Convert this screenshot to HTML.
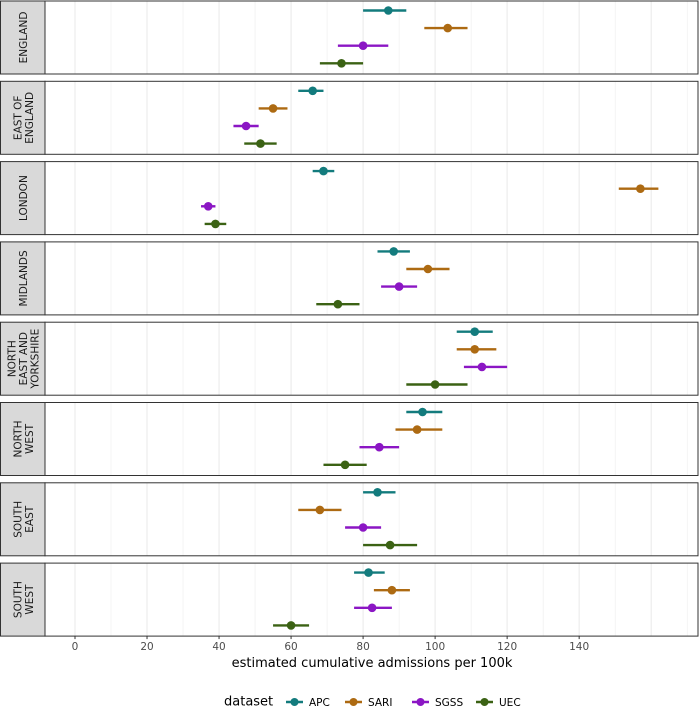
<!DOCTYPE html>
<html><head><meta charset="utf-8"><style>
html,body{margin:0;padding:0;background:#fff;}
svg{display:block;font-family:"DejaVu Sans","Liberation Sans",sans-serif;}
</style></head><body>
<svg id="chart" width="700" height="707" viewBox="0 0 700 707"></svg>
<script>
const regions=["ENGLAND","EAST OF|ENGLAND","LONDON","MIDLANDS","NORTH|EAST AND|YORKSHIRE","NORTH|WEST","SOUTH|EAST","SOUTH|WEST"];
const datasets=["APC","SARI","SGSS","UEC"];
const colors=["#137b7d","#ad6a12","#8b16c4","#3b6214"];
const est=[[87,103.5,80,74],[66,55,47.5,51.5],[69,157,37,39],[88.5,98,90,73],[111,111,113,100],[96.5,95,84.5,75],[84,68,80,87.5],[81.5,88,82.5,60]];
const lo=[[80,97,73,68],[62,51,44,47],[66,151,35,36],[84,92,85,67],[106,106,108,92],[92,89,79,69],[80,62,75,80],[77.5,83,77.5,55]];
const hi=[[92,109,87,80],[69,59,51,56],[72,162,39,42],[93,104,95,79],[116,117,120,109],[102,102,90,81],[89,74,85,95],[86,93,88,65]];
const ticks=[0,20,40,60,80,100,120,140];
const NS="http://www.w3.org/2000/svg";
const svg=document.getElementById("chart");
function el(t,a,p){const e=document.createElementNS(NS,t);for(const k in a)e.setAttribute(k,a[k]);(p||svg).appendChild(e);return e;}
const px0=45,px1=698,xmin=-8.33,xmax=173;
const x=v=>px0+(v-xmin)/(xmax-xmin)*(px1-px0);
const ph=73,pstep=80.3,ptop=1;
regions.forEach((r,i)=>{
 const t=ptop+i*pstep;
 const g=el("g",{});
 
 
 el("rect",{x:px0,y:t,width:px1-px0,height:ph,fill:"#fff"},g);
 for(let v=-10;v<=170;v+=10){if(v<xmin)continue;
  el("line",{x1:x(v),x2:x(v),y1:t,y2:t+ph,stroke:"#ebebeb","stroke-width":v%20===0?1.1:0.55},g);}
 datasets.forEach((d,j)=>{
  const y=t+9.5+j*17.6;
  const m=el("g",{},g);
  
  
  el("line",{x1:x(lo[i][j]),x2:x(hi[i][j]),y1:y,y2:y,stroke:colors[j],"stroke-width":2.4},m);
  el("circle",{cx:x(est[i][j]),cy:y,r:4.3,fill:colors[j]},m);
 });
 el("rect",{x:px0,y:t,width:px1-px0,height:ph,fill:"none",stroke:"#333","stroke-width":1},g);
 const s=el("rect",{x:0.5,y:t,width:px0-0.5,height:ph,fill:"#d9d9d9",stroke:"#333","stroke-width":1},g);
 
 
 const lines=r.split("|");const cx=23,cy=t+ph/2;
 const tx=el("text",{transform:`translate(${cx},${cy}) rotate(-90)`,"text-anchor":"middle","font-size":10.5,fill:"#1a1a1a"},g);
 lines.forEach((ln,k)=>{const ts=el("tspan",{x:0,y:(k-(lines.length-1)/2)*11.5+4},tx);ts.textContent=ln;});
});
const axY=ptop+7*pstep+ph;
ticks.forEach(v=>{
 el("line",{x1:x(v),x2:x(v),y1:axY,y2:axY+3,stroke:"#333"});
 const tt=el("text",{x:x(v),y:axY+14,"text-anchor":"middle","font-size":10.5,fill:"#4d4d4d"});
 
 
 tt.textContent=v;
});
const xt=el("text",{x:372,y:axY+31,"text-anchor":"middle","font-size":13,fill:"#000"});


xt.textContent="estimated cumulative admissions per 100k";
const lg=el("g",{});


const lt=el("text",{x:224,y:707-1.5,"font-size":13,fill:"#000"},lg);lt.textContent="dataset";
const lx=[286,345,412,476];
datasets.forEach((d,j)=>{
 const e=el("g",{},lg);
 
 
 el("line",{x1:lx[j],x2:lx[j]+17,y1:702,y2:702,stroke:colors[j],"stroke-width":2.4},e);
 el("circle",{cx:lx[j]+8.5,cy:702,r:4,fill:colors[j]},e);
 const t=el("text",{x:lx[j]+23,y:706,"font-size":10.5,fill:"#000"},e);t.textContent=d;
});
</script>
</body></html>
